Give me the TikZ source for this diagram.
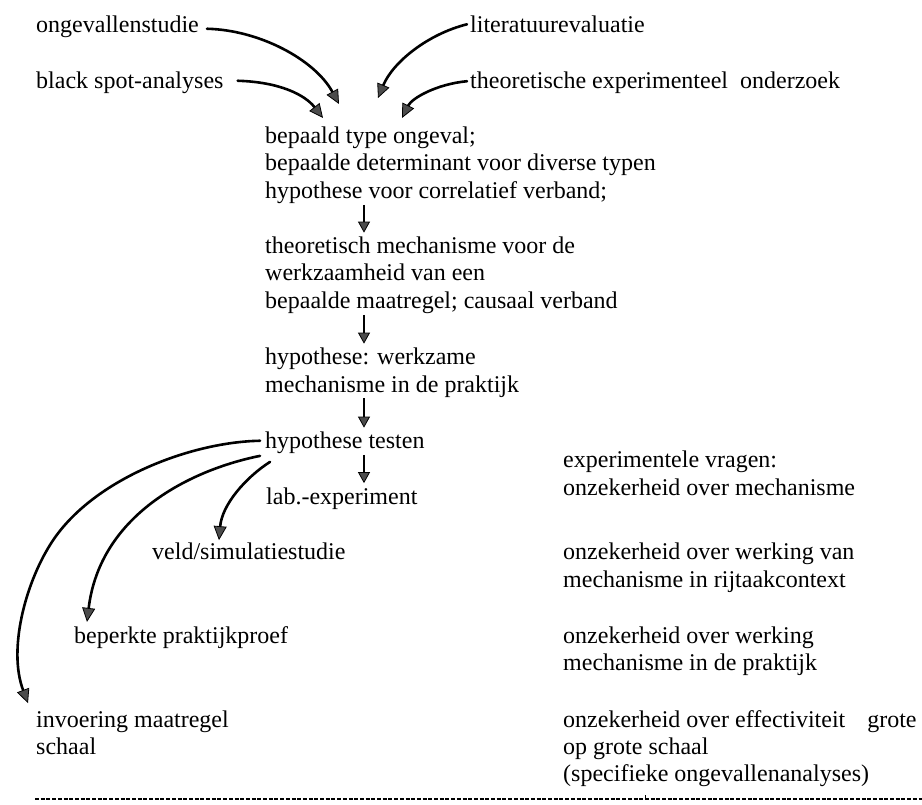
\documentclass[tikz,border=0pt]{standalone}
\usepackage{fontspec}
\setmainfont{Liberation Serif}
\usetikzlibrary{arrows.meta,calc}
\tikzset{
  lbl/.style={anchor=base west, inner sep=0pt, font=\fontsize{24}{27.75}\selectfont},
  arr/.style={line width=2.6pt, line cap=round, -{Triangle[length=14pt,width=13pt,fill=black!70,line width=0.8pt]}},
  darr/.style={line width=1.8pt, -{Triangle[length=11pt,width=12pt,fill=black!70,line width=0.8pt]}},
  rule/.style={line width=1.7pt, dash pattern=on 4pt off 1.7pt}
}
\begin{document}
\begin{tikzpicture}[x=1pt,y=-1pt]
\useasboundingbox (0,0) rectangle (922,805);
\coordinate (mx) at (364,0);
% sources
\node[lbl] (ong) at (36,33) {ongevallenstudie};
\node[lbl] (bsa) at (36,88.5) {black spot-analyses};
\node[lbl] (lit) at (470,33) {literatuurevaluatie};
\node[lbl] (teo) at (470,88.5) {theoretische experimenteel\ \ onderzoek};
% middle column
\node[lbl] (b1a) at (265,143.5) {bepaald type ongeval;};
\node[lbl] (b1b) at (265,171) {bepaalde determinant voor diverse typen};
\node[lbl] (b1c) at (265,198.5) {hypothese voor correlatief verband;};
\node[lbl] (b2a) at (265,253.5) {theoretisch mechanisme voor de};
\node[lbl] (b2b) at (265,281) {werkzaamheid van een};
\node[lbl] (b2c) at (265,308.5) {bepaalde maatregel; causaal verband};
\node[lbl] (b3a) at (265,364.5) {hypothese: werkzame};
\node[lbl] (b3b) at (265,392) {mechanisme in de praktijk};
\node[lbl] (ht) at (265,448.5) {hypothese testen};
\node[lbl] (lab) at (266,504) {lab.-experiment};
\node[lbl] (veld) at (152,559) {veld/simulatiestudie};
\node[lbl] (bep) at (74,643) {beperkte praktijkproef};
\node[lbl] (inv1) at (36,727) {invoering maatregel};
\node[lbl] (inv2) at (36,754.5) {schaal};
% right column
\node[lbl] (r1a) at (563,467) {experimentele vragen:};
\node[lbl] (r1b) at (563,495) {onzekerheid over mechanisme};
\node[lbl] (r2a) at (563,559) {onzekerheid over werking van};
\node[lbl] (r2b) at (563,587) {mechanisme in rijtaakcontext};
\node[lbl] (r3a) at (563,643) {onzekerheid over werking};
\node[lbl] (r3b) at (563,670.5) {mechanisme in de praktijk};
\node[lbl] (r4a) at (563,727) {onzekerheid over effectiviteit\hspace{16pt} grote};
\node[lbl] (r4b) at (563,754.5) {op grote schaal};
\node[lbl] (r4c) at (563,781.5) {(specifieke ongevallenanalyses)};
% free ends
\coordinate (t1) at (339,104);
\coordinate (t2) at (323,118);
\coordinate (t3) at (378,98);
\coordinate (t4) at (402,118);
% incoming arrows
\draw[arr] ($(ong.east)+(8,1.5)$) .. controls (260,30) and (315,60) .. (t1);
\draw[arr] ($(bsa.east)+(14,-2)$) .. controls (280,82) and (305,95) .. (t2);
\draw[arr] ($(lit.west)+(-3,-0.5)$) .. controls (428,34) and (393,62) .. (t3);
\draw[arr] ($(teo.west)+(-3,-1.5)$) .. controls (437,84) and (412,98) .. (t4);
% vertical arrows
\draw[darr] ($(b1c.south -| mx)+(0,1)$) -- ($(b2a.north -| mx)+(0,-4)$);
\draw[darr] ($(b2c.south -| mx)+(0,1)$) -- ($(b3a.north -| mx)+(0,-4)$);
\draw[darr] ($(b3b.south -| mx)+(0,1)$) -- ($(ht.north -| mx)+(0,-4)$);
\draw[darr] ($(ht.south -| mx)+(0,1)$) -- ($(lab.north -| mx)+(0,-4)$);
% outgoing arrows from hypothese testen
\draw[arr] ($(ht.west)+(-5,-2)$) .. controls (190,442) and (90,480) .. (50,545)
   .. controls (25,585) and (8,650) .. ($(inv1.north west)+(-8,-7)$);
\draw[arr] ($(ht.south west)+(-5,2)$) .. controls (190,470) and (100,515) .. ($(bep.north west)+(13,-4)$);
\draw[arr] ($(ht.south west)+(5,8)$) .. controls (245,478) and (222,505) .. ($(veld.north west)+(67,-2)$);
% bottom rule
\coordinate (dl) at (35,799);
\coordinate (dr) at (922,799);
\draw[rule] (dl) -- (dr);
\draw[line width=0.8pt] (645,795) -- (645,799);
\end{tikzpicture}
\end{document}
